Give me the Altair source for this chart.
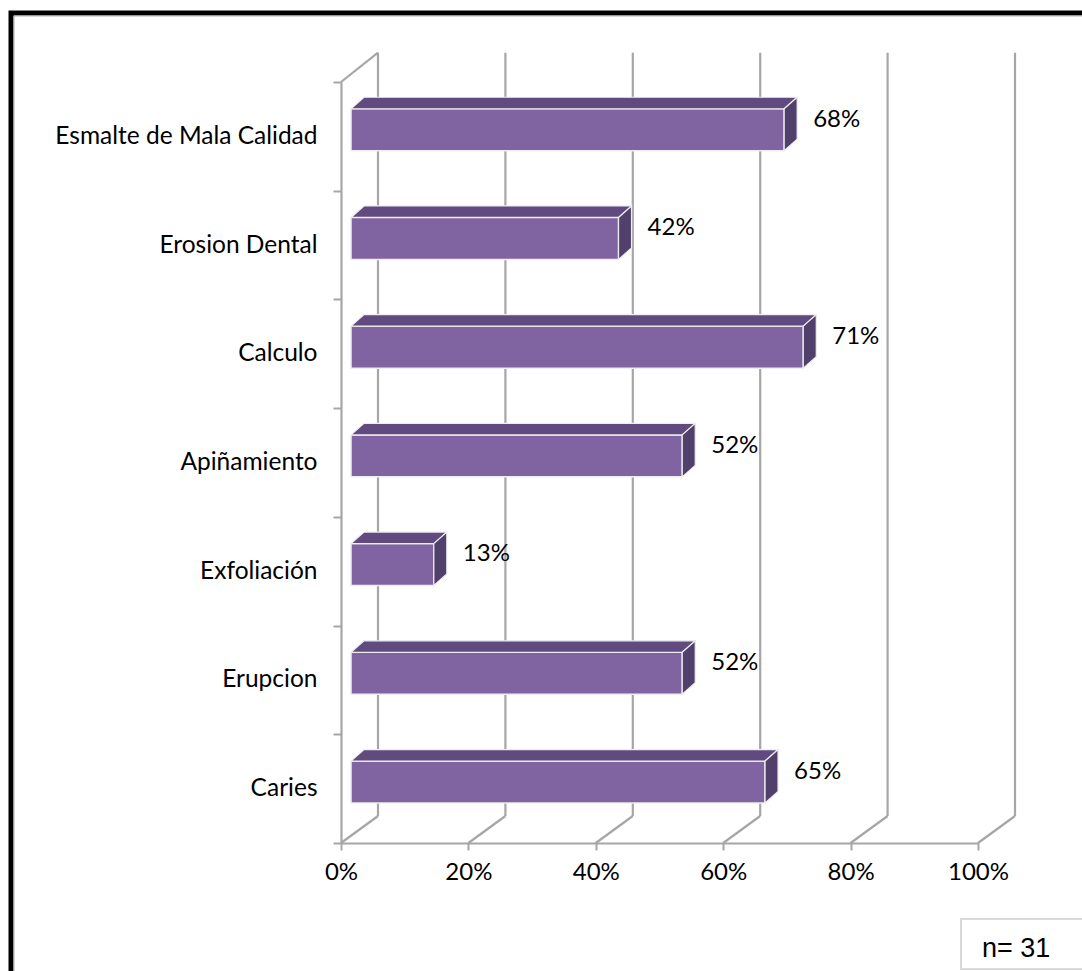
import altair as alt
import pandas as pd

# ---------------- data ----------------
categories = ["Caries", "Erupcion", "Exfoliación", "Apiñamiento",
              "Calculo ", "Erosion Dental", "Esmalte de Mala Calidad"]
values = [0.65, 0.52, 0.13, 0.52, 0.71, 0.42, 0.68]
x_ticks = [0, 0.2, 0.4, 0.6, 0.8, 1.0]
note_text = "n= 31"

# ---------------- layout / style ----------------
W, H = 637, 761
PX_U = H / 7.0
X0 = 10 / W              # bar front face starts a little behind the axis
BX, BY = 37 / W, 27 / PX_U   # back wall offset
TDX, TDY = 13 / W, 11.5 / PX_U  # bar depth offset
BAR_LO, BAR_HI = 0.368, 0.754
TOP_U = 7.27
GRID = "#a6a6a6"
FRONT, TOPC, SIDE, EDGE = "#8064A2", "#604A7F", "#51406C", "#EEEEEE"
FONT = "Lato"

xs = alt.Scale(domain=[0, 1], nice=False, zero=False)
ys = alt.Scale(domain=[0, 7], nice=False, zero=False)

label_arr = "[" + ",".join("'" + c + "'" for c in categories) + ",'']"
x_axis = alt.Axis(
    values=x_ticks, format=".0%", grid=False, title=None,
    domainColor=GRID, domainWidth=2.2, tickColor=GRID, tickWidth=2,
    tickSize=7, labelPadding=10, labelFontSize=24, labelFont=FONT,
    labelColor="black", labelFlush=False, labelOverlap=False)
y_axis = alt.Axis(
    values=list(range(8)), labelExpr=label_arr + "[datum.value]",
    grid=False, title=None, domainColor=GRID, domainWidth=2.2,
    tickColor=GRID, tickWidth=2, tickSize=8, labelPadding=16,
    labelOffset=-PX_U / 2, labelFontSize=24.5, labelFont=FONT,
    labelColor="black", labelOverlap=False, labelFlush=False,
    labelBound=False, labelLimit=600)

# ---------------- derived tables ----------------
front = pd.DataFrame({
    "cat": categories,
    "x0": [X0] * len(values),
    "x1": [X0 + v for v in values],
    "ylo": [k + BAR_LO for k in range(len(values))],
    "yhi": [k + BAR_HI for k in range(len(values))],
    "lx": [X0 + v + TDX for v in values],
    "ly": [k + BAR_HI - 0.1 for k in range(len(values))],
    "lab": [f"{round(v * 100)}%" for v in values],
})

top_rows, side_rows = [], []
for k, v in enumerate(values):
    t = k + BAR_HI
    x0, x1 = X0, X0 + v
    pts = [(x0, t + 0.0001, t), (x0 + TDX, t + TDY, t), (x1, t + TDY, t), (x1 + TDX, t + TDY, t + TDY - 0.0001)]
    for x, ya, yb in pts:
        top_rows.append({"cat": categories[k], "x": x, "ya": ya, "yb": yb})
    b = k + BAR_LO
    side_rows.append({"cat": categories[k], "x": x1, "ya": t, "yb": b})
    side_rows.append({"cat": categories[k], "x": x1 + TDX, "ya": t + TDY, "yb": b + TDY})
top_df = pd.DataFrame(top_rows)
side_df = pd.DataFrame(side_rows)

lines = []
for v in x_ticks:
    lines.append({"xa": v + BX, "ya": BY, "xb": v + BX, "yb": TOP_U})   # back wall
    lines.append({"xa": v, "ya": 0, "xb": v + BX, "yb": BY})             # floor
lines.append({"xa": 0, "ya": 7, "xb": BX, "yb": TOP_U})                 # side wall top
lines_df = pd.DataFrame(lines)

# ---------------- layers ----------------
structure = alt.Chart(lines_df).mark_rule(color=GRID, strokeWidth=2.2).encode(
    x=alt.X("xa:Q", scale=xs, axis=x_axis), x2="xb:Q",
    y=alt.Y("ya:Q", scale=ys, axis=y_axis), y2="yb:Q",
)

front_face = alt.Chart(front).mark_rect(fill=FRONT, stroke=EDGE, strokeWidth=1.5).encode(
    x=alt.X("x0:Q", scale=xs, axis=x_axis), x2="x1:Q",
    y=alt.Y("ylo:Q", scale=ys, axis=y_axis), y2="yhi:Q",
)

top_face = alt.Chart(top_df).mark_area(orient="vertical", fill=TOPC, stroke=EDGE,
                                       strokeWidth=1.2).encode(
    x=alt.X("x:Q", scale=xs, axis=x_axis),
    y=alt.Y("ya:Q", scale=ys, axis=y_axis, stack=False), y2="yb:Q",
    detail="cat:N",
)

side_face = alt.Chart(side_df).mark_area(orient="vertical", fill=SIDE, stroke=EDGE,
                                         strokeWidth=1.2).encode(
    x=alt.X("x:Q", scale=xs, axis=x_axis),
    y=alt.Y("ya:Q", scale=ys, axis=y_axis, stack=False), y2="yb:Q",
    detail="cat:N",
)

labels = alt.Chart(front).mark_text(align="left", baseline="middle", dx=16,
                                     fontSize=24, font=FONT, color="black").encode(
    x=alt.X("lx:Q", scale=xs, axis=x_axis),
    y=alt.Y("ly:Q", scale=ys, axis=y_axis),
    text="lab:N",
)

one = pd.DataFrame({"a": [0]})
frame = alt.Chart(one).mark_rect(fillOpacity=0, stroke="black", strokeWidth=5).encode(
    x=alt.value(-330), x2=alt.value(770), y=alt.value(-69), y2=alt.value(930))
frame_in = alt.Chart(one).mark_rect(fillOpacity=0, stroke="#b0b0b0", strokeWidth=1).encode(
    x=alt.value(-327), x2=alt.value(770), y=alt.value(-66), y2=alt.value(930))
nbox = alt.Chart(one).mark_rect(fill="white", stroke="#d9d9d9", strokeWidth=2).encode(
    x=alt.value(620), x2=alt.value(760), y=alt.value(837), y2=alt.value(887))
ntext = alt.Chart(pd.DataFrame({"t": [note_text]})).mark_text(
    align="left", baseline="alphabetic", fontSize=27, font="Liberation Sans",
    color="black").encode(x=alt.value(641), y=alt.value(875), text="t:N")

chart = alt.layer(structure, front_face, top_face, side_face, labels,
                  frame, frame_in, nbox, ntext).properties(
    width=W, height=H,
    padding={"left": 341, "top": 82, "right": 104, "bottom": 128},
    autosize=alt.AutoSizeParams(type="none"),
    background="white",
).configure_view(strokeWidth=0)

chart.save("out.html", embed_options={"renderer": "svg", "actions": False})
